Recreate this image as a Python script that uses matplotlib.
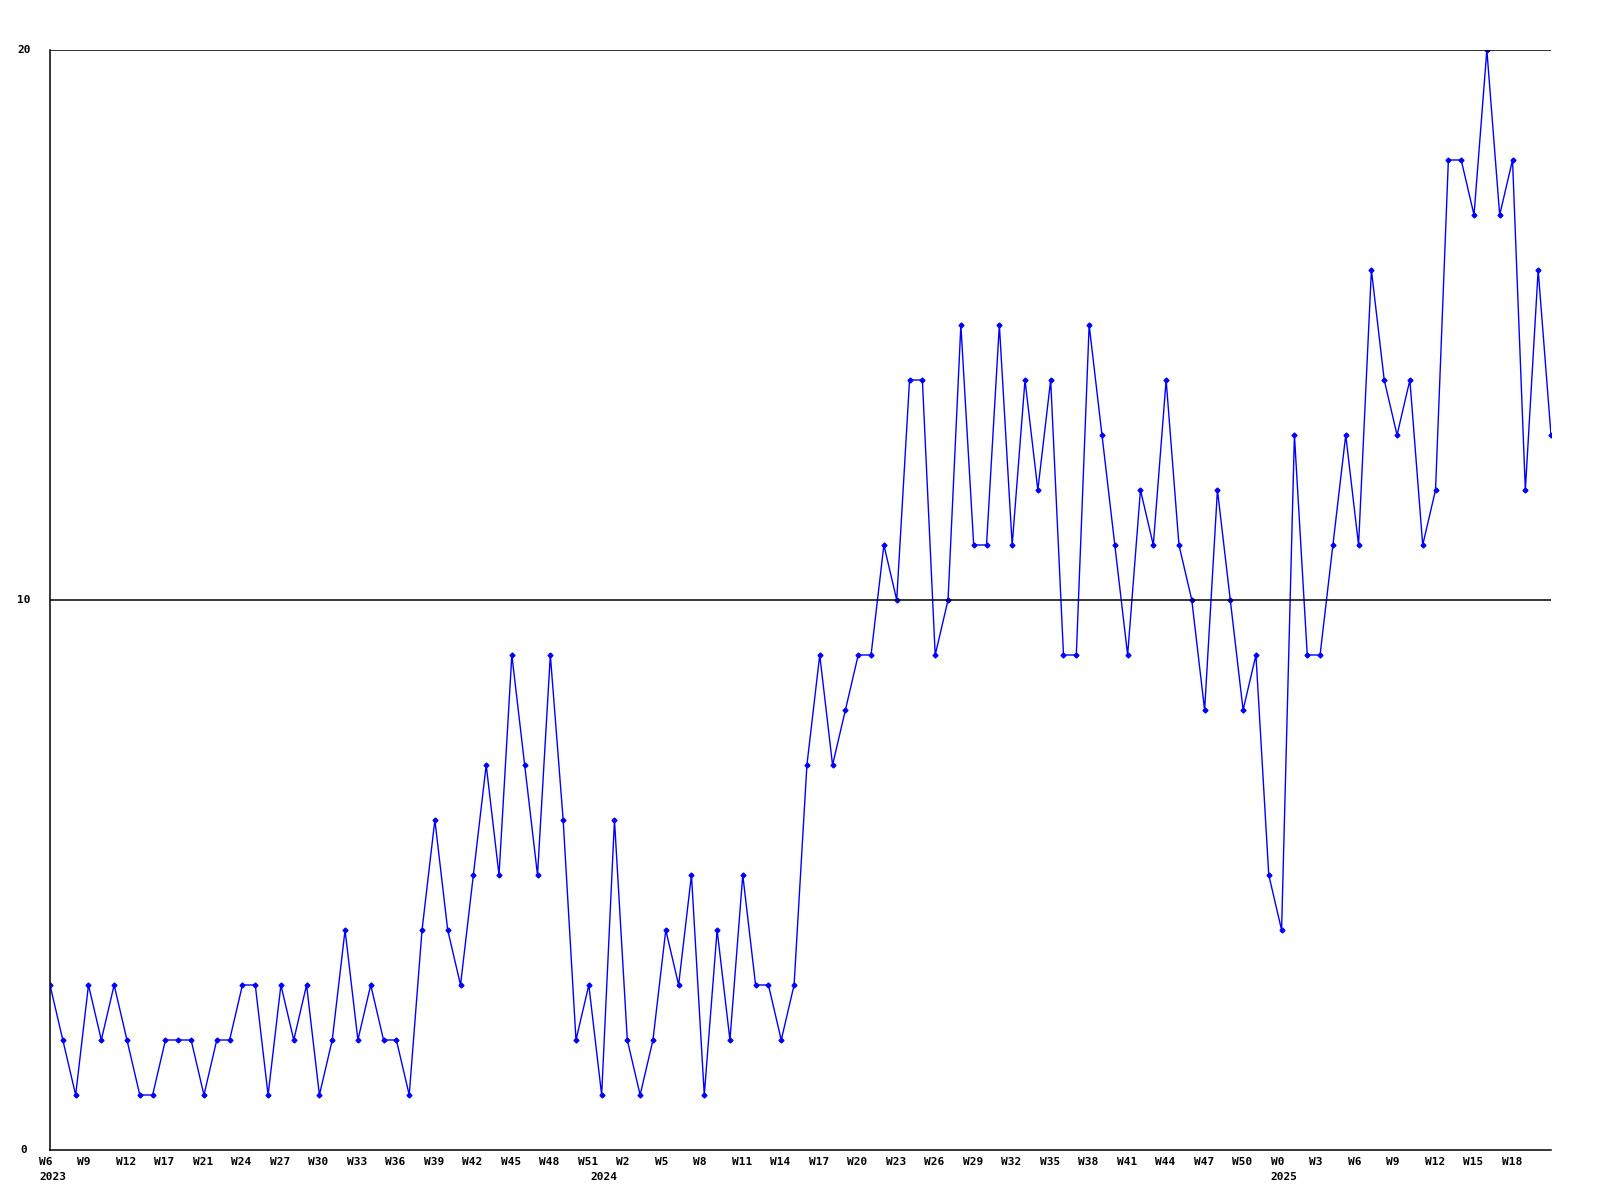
import matplotlib
matplotlib.use('Agg')
import matplotlib.pyplot as plt
import matplotlib.transforms as mtransforms
import numpy as np

# weekly counts (integers)
values = [3, 2, 1, 3, 2, 3, 2, 1, 1, 2, 2, 2, 1, 2, 2, 3, 3, 1, 3, 2,
          3, 1, 2, 4, 2, 3, 2, 2, 1, 4, 6, 4, 3, 5, 7, 5, 9, 7, 5, 9,
          6, 2, 3, 1, 6, 2, 1, 2, 4, 3, 5, 1, 4, 2, 5, 3, 3, 2, 3, 7,
          9, 7, 8, 9, 9, 11, 10, 14, 14, 9, 10, 15, 11, 11, 15, 11, 14, 12, 14, 9,
          9, 15, 13, 11, 9, 12, 11, 14, 11, 10, 8, 12, 10, 8, 9, 5, 4, 13, 9, 9,
          11, 13, 11, 16, 14, 13, 14, 11, 12, 18, 18, 17, 20, 17, 18, 12, 16, 13]

week_labels = ['W6', 'W9', 'W12', 'W17', 'W21', 'W24', 'W27', 'W30', 'W33', 'W36',
               'W39', 'W42', 'W45', 'W48', 'W51', 'W2', 'W5', 'W8', 'W11', 'W14',
               'W17', 'W20', 'W23', 'W26', 'W29', 'W32', 'W35', 'W38', 'W41', 'W44',
               'W47', 'W50', 'W0', 'W3', 'W6', 'W9', 'W12', 'W15', 'W18']
year_labels = ['2023', '2024', '2025']
year_index = [0, 43, 96]
y_ticks = [0, 10, 20]

mono = 'DejaVu Sans Mono'
fig = plt.figure(figsize=(16, 12), dpi=100)
ax = fig.add_axes([50 / 1600, 50 / 1200, 1501 / 1600, 1100 / 1200])

x = np.arange(len(values))
ax.plot(x, values, color='#0000ff', lw=1, marker='D', markersize=2.5)

ax.set_xlim(0, len(values) - 1)
ax.set_ylim(0, 20)
for s in ['top', 'right']:
    ax.spines[s].set_visible(False)
for s in ['left', 'bottom']:
    ax.spines[s].set_linewidth(1.1)
for v in y_ticks[1:]:
    ax.axhline(v, color='black', lw=1.1)

ax.set_xticks([])
ax.set_yticks([])

# y labels left of the axis
ty = mtransforms.blended_transform_factory(fig.transFigure, ax.transData)
for v in y_ticks:
    ax.text(24 / 1600, v, str(v), transform=ty, ha='center', va='center',
            family=mono, fontweight='bold', fontsize=8)

# week labels every third point, year labels below, text starts just left of the point
shift = mtransforms.ScaledTranslation(-11 / 100, 0, fig.dpi_scale_trans)
tx = mtransforms.blended_transform_factory(ax.transData, fig.transFigure) + shift
for i, lab in enumerate(week_labels):
    ax.text(3 * i, 1 - 1162 / 1200, lab, transform=tx, ha='left', va='center',
            family=mono, fontweight='bold', fontsize=8, clip_on=False)
for i, lab in zip(year_index, year_labels):
    ax.text(i, 1 - 1177 / 1200, lab, transform=tx, ha='left', va='center',
            family=mono, fontweight='bold', fontsize=8, clip_on=False)

fig.savefig('out.png', dpi=100)
